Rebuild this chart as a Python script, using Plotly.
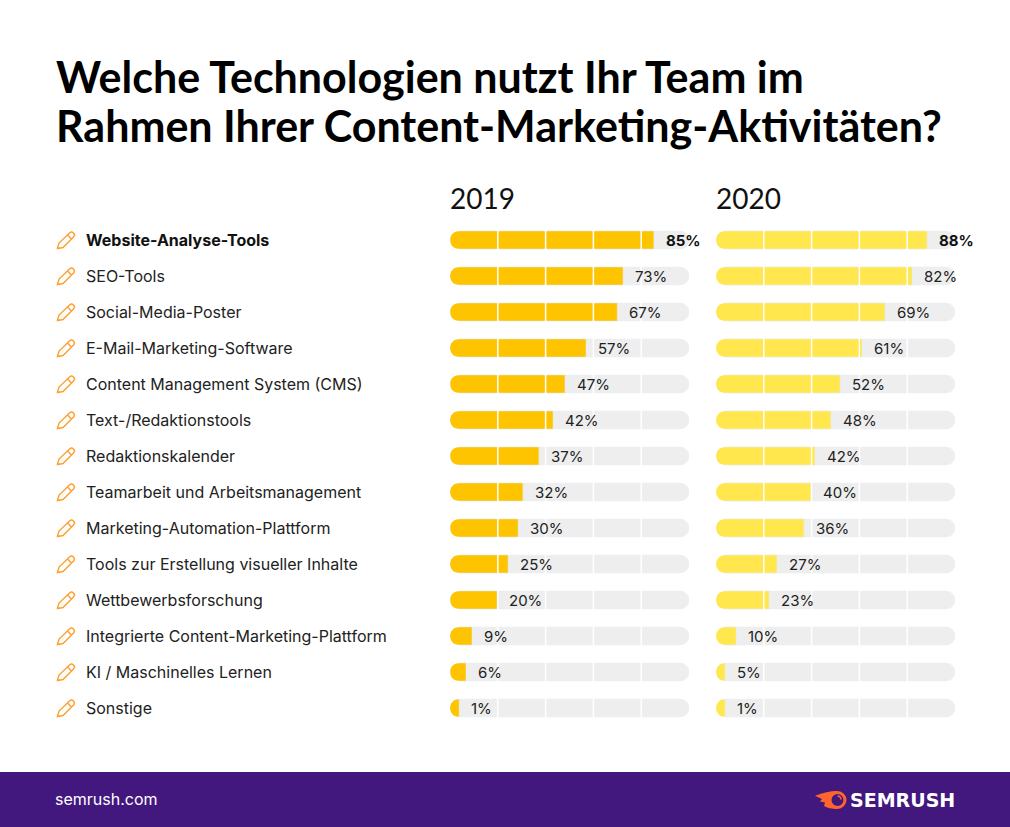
import plotly.graph_objects as go

W, H = 1010, 827

categories = ["Website-Analyse-Tools", "SEO-Tools", "Social-Media-Poster", "E-Mail-Marketing-Software",
              "Content Management System (CMS)", "Text-/Redaktionstools", "Redaktionskalender",
              "Teamarbeit und Arbeitsmanagement", "Marketing-Automation-Plattform",
              "Tools zur Erstellung visueller Inhalte", "Wettbewerbsforschung",
              "Integrierte Content-Marketing-Plattform", "KI / Maschinelles Lernen", "Sonstige"]

# printed percentages
labels_2019 = [85, 73, 67, 57, 47, 42, 37, 32, 30, 25, 20, 9, 6, 1]
labels_2020 = [88, 82, 69, 61, 52, 48, 42, 40, 36, 27, 23, 10, 5, 1]

# bar lengths as drawn in the picture (they differ a bit from the printed numbers)
bars_2019 = [85.3, 72.4, 70.0, 56.9, 48.1, 43.1, 37.2, 30.5, 28.5, 24.3, 19.7, 9.2, 6.7, 3.8]
bars_2020 = [88.3, 82.0, 70.7, 61.1, 51.9, 48.1, 41.4, 39.7, 36.8, 25.5, 22.2, 8.4, 3.8, 3.8]

grid_ticks = [20, 40, 60, 80]
title_lines = ["Welche Technologien nutzt Ihr Team im", "Rahmen Ihrer Content-Marketing-Aktivitäten?"]

COL_2019 = "#FFC400"
COL_2020 = "#FFE74D"
TRACK = "#EEEEEE"
PURPLE = "#42187F"
ORANGE = "#FF9F2E"
FLAME = "#FF642D"
TEXT = "#222222"
FONT = "Inter"
HEAD_FONT = "Lato"

BAR_W = 0.5


def px(x):
    return x / W


def py(y):
    return 1 - y / H


fig = go.Figure()


def add_year(bars, color, xaxis):
    fig.add_trace(go.Bar(y=categories, x=[100] * len(bars), orientation="h", width=BAR_W,
                         marker=dict(color=TRACK, cornerradius=9), xaxis=xaxis, yaxis="y",
                         hoverinfo="skip", showlegend=False))
    fig.add_trace(go.Bar(y=categories, x=bars, orientation="h", width=BAR_W,
                         marker=dict(color=color), xaxis=xaxis, yaxis="y",
                         hoverinfo="skip", showlegend=False))


add_year(bars_2019, COL_2019, "x")
add_year(bars_2020, COL_2020, "x2")

shapes = []
annotations = []

for xref in ["x", "x2"]:
    for t in grid_ticks:
        shapes.append(dict(type="line", xref=xref, yref="paper", x0=t, x1=t, y0=py(726), y1=py(222),
                           line=dict(color="white", width=1.5), layer="above"))

# footer
shapes.append(dict(type="rect", xref="paper", yref="paper", x0=0, x1=1, y0=0, y1=py(772),
                   fillcolor=PURPLE, line_width=0, layer="below"))

# plotly rounds only the far end of a bar, so the left end gets white corner masks
MASK_TOP = "M -1 10 L 9 10 L 9 9 C 4 9 0 5 0 0 L -1 0 Z"
MASK_BOTTOM = "M -1 -10 L 9 -10 L 9 -9 C 4 -9 0 -5 0 0 L -1 0 Z"
# pencil icon, pixels around each row
PENCIL = "M -8 -8.5 L -6.5 -3 L 4 7 Q 6 9 8 7 Q 10 5 8 3 L -2.5 -7.5 Z M 2 5 L 6 1"
for cat in categories:
    shapes.append(dict(type="path", xref="paper", yref="y", xsizemode="pixel", ysizemode="pixel",
                       xanchor=px(65.5), yanchor=cat, path=PENCIL,
                       line=dict(color=ORANGE, width=1.4)))
    for xref in ["x", "x2"]:
        for mask in [MASK_TOP, MASK_BOTTOM]:
            shapes.append(dict(type="path", xref=xref, yref="y", xsizemode="pixel", ysizemode="pixel",
                               xanchor=0, yanchor=cat, path=mask, fillcolor="white", line_width=0,
                               layer="above"))

# logo fireball, pixels around its anchor
logo = dict(xref="paper", yref="paper", xsizemode="pixel", ysizemode="pixel",
            xanchor=px(830), yanchor=py(800))
FLAME_PATH = "M 7 9 Q -3 9 -15 4.3 L -8 1 L -10 -1.5 L -5 -2.5 L -6 -6 Q -1 -9 7 -9 Z"
shapes.append(dict(type="path", path=FLAME_PATH, fillcolor=FLAME, line_width=0, **logo))
shapes.append(dict(type="circle", x0=0, x1=15, y0=-7.5, y1=7.5, fillcolor=PURPLE,
                   line=dict(color=FLAME, width=3), **logo))
shapes.append(dict(type="path", path="M 7.5 4 Q 10.5 4 11 0.5", line=dict(color=FLAME, width=1.6), **logo))

for i, cat in enumerate(categories):
    bold = i == 0
    annotations.append(dict(x=px(84), xref="paper", y=cat, yref="y", xanchor="left", yanchor="middle",
                            showarrow=False, text="<b>%s</b>" % cat if bold else cat,
                            font=dict(family=FONT, size=16, color="#111111" if bold else TEXT)))
    for xref, bars, labels in [("x", bars_2019, labels_2019), ("x2", bars_2020, labels_2020)]:
        txt = "%d%%" % labels[i]
        annotations.append(dict(x=bars[i], xref=xref, y=cat, yref="y", xanchor="left", yanchor="middle",
                                xshift=10, showarrow=False, text="<b>%s</b>" % txt if bold else txt,
                                font=dict(family=FONT, size=15, color="#111111" if bold else TEXT)))


def add_text(x, y, text, family, size, color):
    annotations.append(dict(x=px(x), y=py(y), xref="paper", yref="paper", xanchor="left", yanchor="middle",
                            showarrow=False, text=text, font=dict(family=family, size=size, color=color)))


add_text(54, 77, "<b>%s</b>" % title_lines[0], HEAD_FONT, 43, "#000000")
add_text(54, 125, "<b>%s</b>" % title_lines[1], HEAD_FONT, 43, "#000000")
add_text(448, 198, "2019", HEAD_FONT, 28, "#111111")
add_text(714, 198, "2020", HEAD_FONT, 28, "#111111")
add_text(53, 799, "semrush.com", FONT, 16, "white")
add_text(848, 800, "<b>SEMRUSH</b>", "DejaVu Sans", 19, "white")

fig.update_layout(
    width=W, height=H, margin=dict(l=0, r=0, t=0, b=0), autosize=False,
    paper_bgcolor="white", plot_bgcolor="rgba(0,0,0,0)", barmode="overlay",
    xaxis=dict(domain=[px(450), px(689)], range=[0, 100], visible=False, fixedrange=True),
    xaxis2=dict(domain=[px(716), px(955)], range=[0, 100], visible=False, fixedrange=True, anchor="y"),
    yaxis=dict(domain=[py(726), py(222)], type="category", categoryorder="array", categoryarray=categories,
               range=[13.5, -0.5], visible=False, fixedrange=True),
    shapes=shapes, annotations=annotations,
)

fig.write_html("out.html", config=dict(displayModeBar=False),
               post_script="document.body.style.margin='0';")
